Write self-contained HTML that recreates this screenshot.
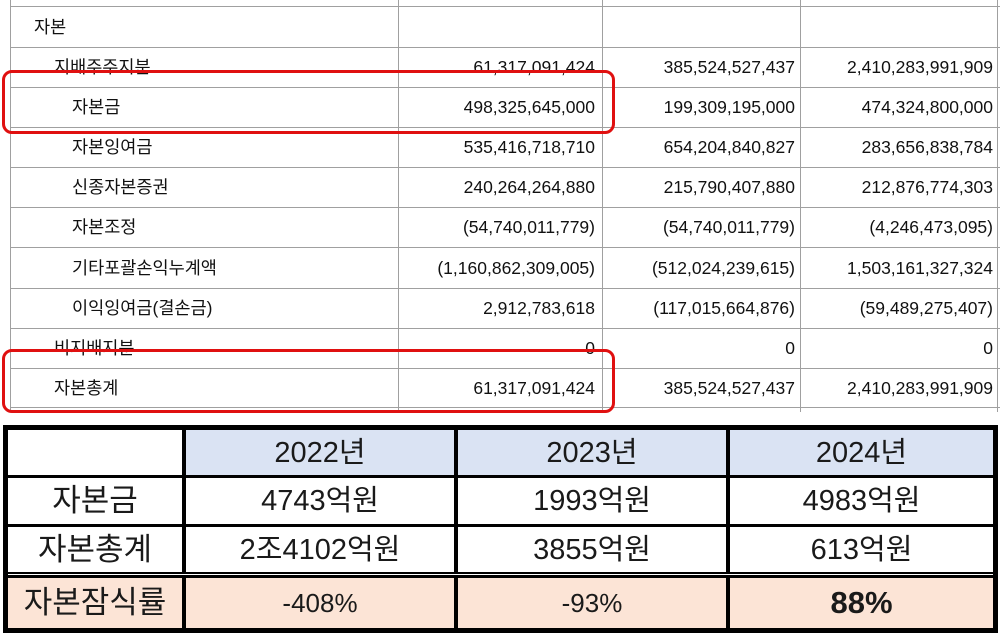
<!DOCTYPE html>
<html><head><meta charset="utf-8"><style>
*{margin:0;padding:0;box-sizing:border-box}
body{width:1001px;height:637px;background:#fff;position:relative;overflow:hidden;font-family:"Liberation Sans","Noto Sans CJK KR",sans-serif;color:#111}
.h{position:absolute;height:1px;background:#a0a0a0;left:10px;width:990px}
.v{position:absolute;width:1px;background:#a0a0a0;top:0;height:412px}
.t{position:absolute;font-size:17.5px;line-height:20px;white-space:nowrap}
.r{text-align:right}
.box{position:absolute;border:3.5px solid #e01010;border-radius:10px}
.b{position:absolute;font-size:29px;text-align:center;line-height:48px;white-space:nowrap;color:#1a1a1a}
</style></head><body>
<div class="v" style="left:10px"></div>
<div class="v" style="left:398px"></div>
<div class="v" style="left:602px"></div>
<div class="v" style="left:800px"></div>
<div class="v" style="left:997px"></div>
<div class="h" style="top:6px"></div>
<div class="h" style="top:47px"></div>
<div class="h" style="top:87px"></div>
<div class="h" style="top:127px"></div>
<div class="h" style="top:167px"></div>
<div class="h" style="top:207px"></div>
<div class="h" style="top:247px"></div>
<div class="h" style="top:288px"></div>
<div class="h" style="top:328px"></div>
<div class="h" style="top:368px"></div>
<div class="h" style="top:407px"></div>

<div class="t" style="left:34px;top:17px">자본</div>
<div class="t" style="left:54px;top:57px">지배주주지분</div>
<div class="t" style="left:72px;top:97px">자본금</div>
<div class="t" style="left:72px;top:137px">자본잉여금</div>
<div class="t" style="left:72px;top:177px">신종자본증권</div>
<div class="t" style="left:72px;top:217px">자본조정</div>
<div class="t" style="left:72px;top:258px">기타포괄손익누계액</div>
<div class="t" style="left:72px;top:298px">이익잉여금(결손금)</div>
<div class="t" style="left:54px;top:338px">비지배지분</div>
<div class="t" style="left:54px;top:378px">자본총계</div>

<div class="t r" style="right:406px;top:57px">61,317,091,424</div>
<div class="t r" style="right:406px;top:97px">498,325,645,000</div>
<div class="t r" style="right:406px;top:137px">535,416,718,710</div>
<div class="t r" style="right:406px;top:177px">240,264,264,880</div>
<div class="t r" style="right:406px;top:217px">(54,740,011,779)</div>
<div class="t r" style="right:406px;top:258px">(1,160,862,309,005)</div>
<div class="t r" style="right:406px;top:298px">2,912,783,618</div>
<div class="t r" style="right:406px;top:338px">0</div>
<div class="t r" style="right:406px;top:378px">61,317,091,424</div>

<div class="t r" style="right:206px;top:57px">385,524,527,437</div>
<div class="t r" style="right:206px;top:97px">199,309,195,000</div>
<div class="t r" style="right:206px;top:137px">654,204,840,827</div>
<div class="t r" style="right:206px;top:177px">215,790,407,880</div>
<div class="t r" style="right:206px;top:217px">(54,740,011,779)</div>
<div class="t r" style="right:206px;top:258px">(512,024,239,615)</div>
<div class="t r" style="right:206px;top:298px">(117,015,664,876)</div>
<div class="t r" style="right:206px;top:338px">0</div>
<div class="t r" style="right:206px;top:378px">385,524,527,437</div>

<div class="t r" style="right:8px;top:57px">2,410,283,991,909</div>
<div class="t r" style="right:8px;top:97px">474,324,800,000</div>
<div class="t r" style="right:8px;top:137px">283,656,838,784</div>
<div class="t r" style="right:8px;top:177px">212,876,774,303</div>
<div class="t r" style="right:8px;top:217px">(4,246,473,095)</div>
<div class="t r" style="right:8px;top:258px">1,503,161,327,324</div>
<div class="t r" style="right:8px;top:298px">(59,489,275,407)</div>
<div class="t r" style="right:8px;top:338px">0</div>
<div class="t r" style="right:8px;top:378px">2,410,283,991,909</div>

<div class="box" style="left:2px;top:70px;width:613px;height:64px"></div>
<div class="box" style="left:2px;top:349px;width:613px;height:64px"></div>

<div style="position:absolute;left:3px;top:425px;width:995px;height:208px;background:#000"></div>
<div style="position:absolute;left:8px;top:430px;width:174px;height:45px;background:#fff"></div>
<div style="position:absolute;left:186px;top:430px;width:268px;height:45px;background:#dae3f3"></div>
<div style="position:absolute;left:458px;top:430px;width:268px;height:45px;background:#dae3f3"></div>
<div style="position:absolute;left:730px;top:430px;width:263px;height:45px;background:#dae3f3"></div>
<div style="position:absolute;left:8px;top:478px;width:174px;height:46px;background:#fff"></div>
<div style="position:absolute;left:186px;top:478px;width:268px;height:46px;background:#fff"></div>
<div style="position:absolute;left:458px;top:478px;width:268px;height:46px;background:#fff"></div>
<div style="position:absolute;left:730px;top:478px;width:263px;height:46px;background:#fff"></div>
<div style="position:absolute;left:8px;top:527px;width:174px;height:45px;background:#fff"></div>
<div style="position:absolute;left:186px;top:527px;width:268px;height:45px;background:#fff"></div>
<div style="position:absolute;left:458px;top:527px;width:268px;height:45px;background:#fff"></div>
<div style="position:absolute;left:730px;top:527px;width:263px;height:45px;background:#fff"></div>
<div style="position:absolute;left:8px;top:574px;width:985px;height:1px;background:#fff"></div>
<div style="position:absolute;left:8px;top:578px;width:174px;height:50px;background:#fce4d6"></div>
<div style="position:absolute;left:186px;top:578px;width:268px;height:50px;background:#fce4d6"></div>
<div style="position:absolute;left:458px;top:578px;width:268px;height:50px;background:#fce4d6"></div>
<div style="position:absolute;left:730px;top:578px;width:263px;height:50px;background:#fce4d6"></div>

<div class="b" style="left:186px;top:429px;width:268px">2022년</div>
<div class="b" style="left:458px;top:429px;width:268px">2023년</div>
<div class="b" style="left:730px;top:429px;width:263px">2024년</div>
<div class="b" style="left:8px;top:477px;width:174px;font-size:31px">자본금</div>
<div class="b" style="left:186px;top:477px;width:268px">4743억원</div>
<div class="b" style="left:458px;top:477px;width:268px">1993억원</div>
<div class="b" style="left:730px;top:477px;width:263px">4983억원</div>
<div class="b" style="left:8px;top:526px;width:174px;font-size:31px">자본총계</div>
<div class="b" style="left:186px;top:526px;width:268px">2조4102억원</div>
<div class="b" style="left:458px;top:526px;width:268px">3855억원</div>
<div class="b" style="left:730px;top:526px;width:263px">613억원</div>
<div class="b" style="left:8px;top:579px;width:174px;font-size:31px">자본잠식률</div>
<div class="b" style="left:186px;top:579px;width:268px;font-size:26px">-408%</div>
<div class="b" style="left:458px;top:579px;width:268px;font-size:26px">-93%</div>
<div class="b" style="left:730px;top:579px;width:263px;font-size:31px;font-weight:bold">88%</div>
</body></html>
